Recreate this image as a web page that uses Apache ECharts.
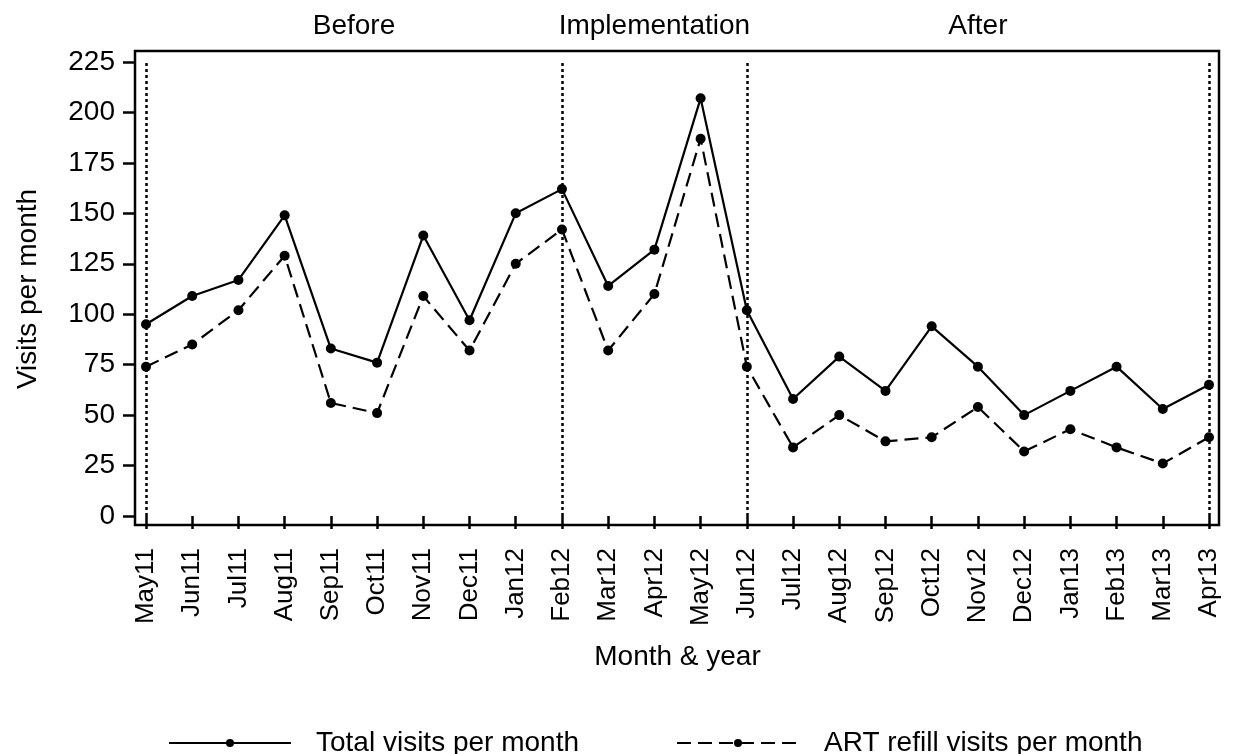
<!DOCTYPE html>
<html lang="en">

<head>
  <meta charset="UTF-8">
  <title>Visits per month</title>
  <style>
    * {
      margin: 0;
      padding: 0;
      box-sizing: border-box;
    }

    body {
      background-color: #fff;
    }

    #chart {
      width: 1235px;
      height: 754px;
    }
  </style>
</head>

<body>
  <div id="chart"></div>
  <script src="https://cdn.jsdelivr.net/npm/echarts@6/dist/echarts.min.js"></script>
  <script>
    const months = ['May11', 'Jun11', 'Jul11', 'Aug11', 'Sep11', 'Oct11', 'Nov11', 'Dec11',
      'Jan12', 'Feb12', 'Mar12', 'Apr12', 'May12', 'Jun12', 'Jul12', 'Aug12', 'Sep12',
      'Oct12', 'Nov12', 'Dec12', 'Jan13', 'Feb13', 'Mar13', 'Apr13']
    const totalVisits = [95, 109, 117, 149, 83, 76, 139, 97, 150, 162, 114, 132, 207, 102,
      58, 79, 62, 94, 74, 50, 62, 74, 53, 65]
    const artVisits = [74, 85, 102, 129, 56, 51, 109, 82, 125, 142, 82, 110, 187, 74,
      34, 50, 37, 39, 54, 32, 43, 34, 26, 39]
    const yTicks = [0, 25, 50, 75, 100, 125, 150, 175, 200, 225]
    const phaseNames = ['Before', 'Implementation', 'After']
    const phaseBounds = ['May11', 'Feb12', 'Jun12', 'Apr13']

    const font = '"Liberation Sans", Arial, sans-serif'
    const chart = echarts.init(document.getElementById('chart'))

    // period headers sit above the plot, centred between the boundaries
    const phaseAreas = phaseNames.map((name, i) => [
      { name: name, xAxis: phaseBounds[i] },
      { xAxis: phaseBounds[i + 1] }
    ])

    const options = {
      animation: false,
      textStyle: { fontFamily: font, color: '#000' },
      grid: [
        // frame only
        { left: 135, right: 16, top: 51, bottom: 229, show: true, borderColor: '#000', borderWidth: 2.5 },
        // data area
        { left: 146, right: 26, top: 62, bottom: 238 }
      ],
      xAxis: [
        { gridIndex: 0, type: 'value', show: false },
        {
          gridIndex: 1,
          type: 'category',
          data: months,
          boundaryGap: false,
          offset: 9,
          axisLine: { show: false },
          axisTick: { show: true, alignWithLabel: true, length: 13, lineStyle: { color: '#000', width: 2.5 } },
          axisLabel: { rotate: 90, interval: 0, margin: 23, fontSize: 26, color: '#000', fontFamily: font },
          name: 'Month & year',
          nameLocation: 'middle',
          nameGap: 118,
          nameTextStyle: { fontSize: 28, color: '#000', fontFamily: font },
          splitLine: { show: false }
        }
      ],
      yAxis: [
        { gridIndex: 0, type: 'value', show: false },
        {
          gridIndex: 1,
          type: 'value',
          min: yTicks[0],
          max: yTicks[yTicks.length - 1],
          interval: yTicks[1] - yTicks[0],
          offset: 11,
          axisLine: { show: false },
          axisTick: { show: true, length: 12, lineStyle: { color: '#000', width: 2.5 } },
          axisLabel: { margin: 20, fontSize: 28, color: '#000', fontFamily: font },
          splitLine: { show: false },
          name: 'Visits per month',
          nameLocation: 'middle',
          nameGap: 93,
          nameTextStyle: { fontSize: 28, color: '#000', fontFamily: font }
        }
      ],
      legend: {
        left: 163,
        top: 724,
        itemWidth: 122,
        itemHeight: 10,
        itemGap: 97,
        textStyle: { fontSize: 28, color: '#000', fontFamily: font, padding: [0, 0, 0, 20] },
        data: ['Total visits per month', 'ART refill visits per month']
      },
      series: [
        {
          name: 'Total visits per month',
          type: 'line',
          xAxisIndex: 1,
          yAxisIndex: 1,
          data: totalVisits,
          symbol: 'circle',
          symbolSize: 10,
          itemStyle: { color: '#000' },
          lineStyle: { color: '#000', width: 2.2 },
          markLine: {
            silent: true,
            symbol: 'none',
            label: { show: false },
            lineStyle: { color: '#000', type: [3, 3], width: 2.5 },
            data: phaseBounds.map(m => ({ xAxis: m }))
          },
          markArea: {
            silent: true,
            itemStyle: { color: 'rgba(0,0,0,0)' },
            label: { show: true, position: 'top', distance: 22, fontSize: 28, color: '#000', fontFamily: font },
            data: phaseAreas
          }
        },
        {
          name: 'ART refill visits per month',
          type: 'line',
          xAxisIndex: 1,
          yAxisIndex: 1,
          data: artVisits,
          symbol: 'circle',
          symbolSize: 10,
          itemStyle: { color: '#000' },
          lineStyle: { color: '#000', width: 2.2, type: [14, 7] }
        }
      ]
    }

    chart.setOption(options)
  </script>
</body>

</html>
